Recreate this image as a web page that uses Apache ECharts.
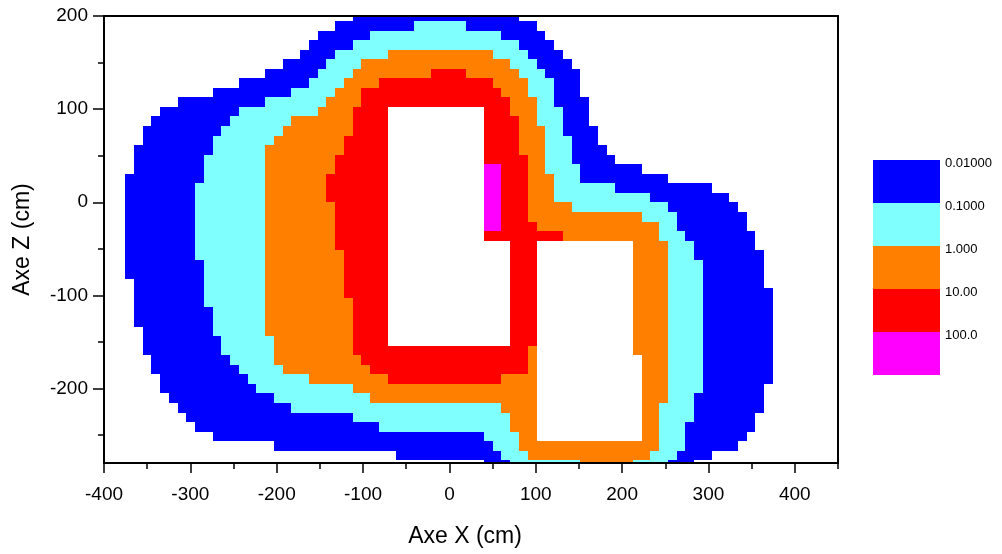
<!DOCTYPE html>
<html>
<head>
<meta charset="utf-8">
<script src="https://cdn.jsdelivr.net/npm/echarts@6/dist/echarts.min.js"></script>
<style>html,body{margin:0;padding:0;background:#fff}#chart{width:1002px;height:554px}</style>
</head>
<body>
<div id="chart"></div>
<script>
// ---- legend / level data ----
const levelLabels = ['0.01000', '0.1000', '1.000', '10.00', '100.0'];
const levelColors = ['#0000FF', '#80FFFF', '#FF8000', '#FF0000', '#FF00FF'];

// ---- axis ticks ----
const xMajorTicks = [-400, -300, -200, -100, 0, 100, 200, 300, 400];
const xMinorTicks = [-350, -250, -150, -50, 50, 150, 250, 350, 450];
const zMajorTicks = [-200, -100, 0, 100, 200];
const zMinorTicks = [-250, -150, -50, 50, 150];

// ---- sampling grid of the dose map (cell centres, cm) ----
const gridX0 = -360.2, gridDX = 10.133;   // column 0 centre, column step
const gridZ0 = 199.76, gridDZ = 10.255;   // row 0 centre, row step (rows go downwards)

// ---- dose map: per row (top to bottom), runs [firstCol, lastCol, level]
// level 1 = >0.01, 2 = >0.1, 3 = >1, 4 = >10, 5 = >100 ; everything else blank
const doseRows = [
  [[25,43,1]],
  [[23,31,1],[32,37,2],[38,45,1]],
  [[21,26,1],[27,41,2],[42,46,1]],
  [[20,24,1],[25,43,2],[44,47,1]],
  [[19,22,1],[23,28,2],[29,40,3],[41,44,2],[45,48,1]],
  [[17,21,1],[22,25,2],[26,42,3],[43,45,2],[46,49,1]],
  [[15,20,1],[21,24,2],[25,33,3],[34,37,4],[38,43,3],[44,46,2],[47,50,1]],
  [[12,19,1],[20,23,2],[24,27,3],[28,40,4],[41,44,3],[45,47,2],[48,50,1]],
  [[9,17,1],[18,22,2],[23,25,3],[26,41,4],[42,44,3],[45,47,2],[48,50,1]],
  [[5,14,1],[15,21,2],[22,25,3],[26,42,4],[43,45,3],[46,47,2],[48,51,1]],
  [[3,11,1],[12,20,2],[21,24,3],[25,28,4],[40,42,4],[43,45,3],[46,48,2],[49,51,1]],
  [[2,10,1],[11,17,2],[18,24,3],[25,28,4],[40,43,4],[44,45,3],[46,48,2],[49,51,1]],
  [[1,9,1],[10,16,2],[17,24,3],[25,28,4],[40,43,4],[44,46,3],[47,48,2],[49,52,1]],
  [[1,8,1],[9,15,2],[16,23,3],[24,28,4],[40,43,4],[44,46,3],[47,49,2],[50,52,1]],
  [[0,8,1],[9,14,2],[15,23,3],[24,28,4],[40,43,4],[44,46,3],[47,49,2],[50,53,1]],
  [[0,7,1],[8,14,2],[15,22,3],[23,28,4],[40,44,4],[45,46,3],[47,49,2],[50,54,1]],
  [[0,7,1],[8,14,2],[15,22,3],[23,28,4],[40,41,5],[42,44,4],[45,46,3],[47,50,2],[51,57,1]],
  [[-1,7,1],[8,14,2],[15,21,3],[22,28,4],[40,41,5],[42,44,4],[45,47,3],[48,50,2],[51,60,1]],
  [[-1,6,1],[7,14,2],[15,21,3],[22,28,4],[40,41,5],[42,44,4],[45,47,3],[48,54,2],[55,65,1]],
  [[-1,6,1],[7,14,2],[15,21,3],[22,28,4],[40,41,5],[42,44,4],[45,47,3],[48,58,2],[59,67,1]],
  [[-1,6,1],[7,14,2],[15,22,3],[23,28,4],[40,41,5],[42,44,4],[45,49,3],[50,60,2],[61,68,1]],
  [[-1,6,1],[7,14,2],[15,22,3],[23,28,4],[40,41,5],[42,44,4],[45,57,3],[58,61,2],[62,69,1]],
  [[-1,6,1],[7,14,2],[15,22,3],[23,28,4],[40,41,5],[42,45,4],[46,59,3],[60,61,2],[62,69,1]],
  [[-1,6,1],[7,14,2],[15,22,3],[23,28,4],[40,48,4],[49,59,3],[60,62,2],[63,70,1]],
  [[-1,6,1],[7,14,2],[15,22,3],[23,28,4],[43,45,4],[57,60,3],[61,63,2],[64,70,1]],
  [[-1,6,1],[7,14,2],[15,23,3],[24,28,4],[43,45,4],[57,60,3],[61,63,2],[64,71,1]],
  [[-1,7,1],[8,14,2],[15,23,3],[24,28,4],[43,45,4],[57,60,3],[61,64,2],[65,71,1]],
  [[-1,7,1],[8,14,2],[15,23,3],[24,28,4],[43,45,4],[57,60,3],[61,64,2],[65,71,1]],
  [[0,7,1],[8,14,2],[15,23,3],[24,28,4],[43,45,4],[57,60,3],[61,64,2],[65,71,1]],
  [[0,7,1],[8,14,2],[15,23,3],[24,28,4],[43,45,4],[57,60,3],[61,64,2],[65,72,1]],
  [[0,7,1],[8,14,2],[15,24,3],[25,28,4],[43,45,4],[57,60,3],[61,64,2],[65,72,1]],
  [[0,8,1],[9,14,2],[15,24,3],[25,28,4],[43,45,4],[57,60,3],[61,64,2],[65,72,1]],
  [[0,8,1],[9,14,2],[15,24,3],[25,28,4],[43,45,4],[57,60,3],[61,64,2],[65,72,1]],
  [[1,8,1],[9,14,2],[15,24,3],[25,28,4],[43,45,4],[57,60,3],[61,64,2],[65,72,1]],
  [[1,9,1],[10,15,2],[16,24,3],[25,28,4],[43,45,4],[57,60,3],[61,64,2],[65,72,1]],
  [[1,9,1],[10,15,2],[16,24,3],[25,44,4],[45,45,3],[57,60,3],[61,64,2],[65,72,1]],
  [[2,10,1],[11,15,2],[16,25,3],[26,44,4],[45,45,3],[58,60,3],[61,64,2],[65,72,1]],
  [[2,11,1],[12,16,2],[17,26,3],[27,44,4],[45,45,3],[58,60,3],[61,64,2],[65,72,1]],
  [[3,12,1],[13,19,2],[20,28,3],[29,41,4],[42,45,3],[58,60,3],[61,64,2],[65,72,1]],
  [[3,13,1],[14,24,2],[25,45,3],[58,60,3],[61,64,2],[65,71,1]],
  [[4,15,1],[16,26,2],[27,45,3],[58,60,3],[61,63,2],[64,71,1]],
  [[5,17,1],[18,41,2],[42,45,3],[58,59,3],[60,63,2],[64,71,1]],
  [[6,24,1],[25,42,2],[43,45,3],[58,59,3],[60,63,2],[64,70,1]],
  [[7,27,1],[28,42,2],[43,45,3],[58,59,3],[60,62,2],[63,70,1]],
  [[9,39,1],[40,43,2],[44,45,3],[58,59,3],[60,62,2],[63,69,1]],
  [[16,40,1],[41,43,2],[44,59,3],[60,62,2],[63,68,1]],
  [[30,41,1],[42,44,2],[45,58,3],[59,61,2],[62,65,1]],
  [[40,42,1],[43,50,2],[51,56,3],[57,60,2],[61,63,1]]
];

// build cell-run items in data units: [xLeft, xRight, zBottom, zTop, level]
const cells = [];
doseRows.forEach(function (runs, k) {
  const zc = gridZ0 - k * gridDZ;
  runs.forEach(function (r) {
    cells.push([
      gridX0 + (r[0] - 0.5) * gridDX,
      gridX0 + (r[1] + 0.5) * gridDX,
      zc - gridDZ / 2,
      zc + gridDZ / 2,
      r[2]
    ]);
  });
});

const FONT = '"Liberation Sans", Arial, Helvetica, sans-serif';
const chart = echarts.init(document.getElementById('chart'), null, { renderer: 'canvas' });

function renderCell(params, api) {
  const p0 = api.coord([api.value(0), api.value(3)]);
  const p1 = api.coord([api.value(1), api.value(2)]);
  const x = Math.round(p0[0]), y = Math.round(p0[1]);
  const w = Math.round(p1[0]) - x, h = Math.round(p1[1]) - y;
  const cs = params.coordSys;
  const shape = echarts.graphic.clipRectByRect(
    { x: x, y: y, width: w, height: h },
    { x: cs.x, y: cs.y, width: cs.width, height: cs.height }
  );
  if (!shape) return;
  return { type: 'rect', shape: shape, style: { fill: levelColors[api.value(4) - 1] } };
}

const legendTop = 160, legendStep = 43, legendLeft = 873, legendW = 67;
const legendGraphics = [];
levelColors.forEach(function (c, i) {
  legendGraphics.push({
    type: 'rect', left: legendLeft, top: legendTop + i * legendStep,
    shape: { width: legendW, height: legendStep }, style: { fill: c }
  });
  legendGraphics.push({
    type: 'text', x: legendLeft + legendW + 5, y: legendTop + i * legendStep + 3,
    style: { text: levelLabels[i], fill: '#000', font: '13px ' + FONT, verticalAlign: 'middle', align: 'left' }
  });
});

const axisLineStyle = { color: '#000', width: 2 };
const option = {
  animation: false,
  backgroundColor: '#fff',
  grid: { left: 104, right: 164, top: 16, bottom: 91, containLabel: false, show: false },
  xAxis: [
    {
      type: 'value', min: -400, max: 450, position: 'bottom', z: 10,
      axisLine: { show: true, onZero: false, lineStyle: axisLineStyle },
      axisTick: { show: true, inside: false, length: 10, customValues: xMajorTicks, lineStyle: { color: '#000', width: 1.5 } },
      axisLabel: { show: true, customValues: xMajorTicks, margin: 22, fontSize: 19, color: '#000', fontFamily: FONT },
      splitLine: { show: false },
      name: 'Axe X (cm)', nameLocation: 'middle', nameGap: 62,
      nameTextStyle: { fontSize: 23, color: '#000', fontFamily: FONT, padding: [0, 12, 0, 0] }
    },
    {
      type: 'value', min: -400, max: 450, position: 'bottom', z: 10,
      axisLine: { show: false, onZero: false },
      axisTick: { show: true, inside: false, length: 6, customValues: xMinorTicks, lineStyle: { color: '#000', width: 1.5 } },
      axisLabel: { show: false }, splitLine: { show: false }
    },
    {
      type: 'value', min: -400, max: 450, position: 'top', z: 10,
      axisLine: { show: true, onZero: false, lineStyle: axisLineStyle },
      axisTick: { show: false }, axisLabel: { show: false }, splitLine: { show: false }
    }
  ],
  yAxis: [
    {
      type: 'value', min: -280, max: 200, position: 'left', z: 10,
      axisLine: { show: true, onZero: false, lineStyle: axisLineStyle },
      axisTick: { show: true, inside: false, length: 11, customValues: zMajorTicks, lineStyle: { color: '#000', width: 1.5 } },
      axisLabel: { show: true, customValues: zMajorTicks, margin: 16, fontSize: 19, color: '#000', fontFamily: FONT },
      splitLine: { show: false },
      name: 'Axe Z (cm)', nameLocation: 'middle', nameGap: 70, nameRotate: 90,
      nameTextStyle: { fontSize: 23, color: '#000', fontFamily: FONT }
    },
    {
      type: 'value', min: -280, max: 200, position: 'left', z: 10,
      axisLine: { show: false, onZero: false },
      axisTick: { show: true, inside: false, length: 6, customValues: zMinorTicks, lineStyle: { color: '#000', width: 1.5 } },
      axisLabel: { show: false }, splitLine: { show: false }
    },
    {
      type: 'value', min: -280, max: 200, position: 'right', z: 10,
      axisLine: { show: true, onZero: false, lineStyle: axisLineStyle },
      axisTick: { show: false }, axisLabel: { show: false }, splitLine: { show: false }
    }
  ],
  graphic: legendGraphics,
  series: [{
    type: 'custom',
    xAxisIndex: 0, yAxisIndex: 0,
    z: 2,
    renderItem: renderCell,
    encode: { x: [0, 1], y: [2, 3] },
    data: cells,
    silent: true
  }]
};
chart.setOption(option);
</script>
</body>
</html>
